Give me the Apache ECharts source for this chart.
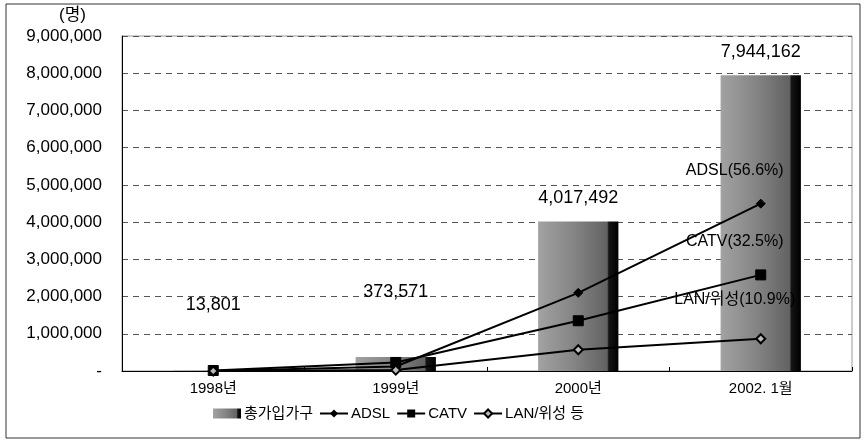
<!DOCTYPE html>
<html>
<head>
<meta charset="utf-8">
<script src="https://cdn.jsdelivr.net/npm/echarts@6/dist/echarts.min.js"></script>
<style>
html,body{margin:0;padding:0;background:#fff;}
#c{width:866px;height:442px;}
</style>
</head>
<body>
<div id="c"></div>
<script>
const categories = ['1998년', '1999년', '2000년', '2002. 1월'];
const totalHouseholds = [13801, 373571, 4017492, 7944162];
const adsl = [0, 120000, 2100000, 4496000];
const catv = [13801, 230000, 1350000, 2582000];
const lanSat = [0, 24000, 570000, 866000];
const endLabels = ['ADSL(56.6%)', 'CATV(32.5%)', 'LAN/위성(10.9%)'];
const seriesNames = ['총가입가구', 'ADSL', 'CATV', 'LAN/위성 등'];
const yTicks = { min: 0, max: 9000000, interval: 1000000 };

const FONT = '"Liberation Sans", "Noto Sans CJK KR", sans-serif';
const chart = echarts.init(document.getElementById('c'));

const fmt = v => v.toLocaleString('en-US');

const barFill = new echarts.graphic.LinearGradient(0, 0, 1, 0, [
  { offset: 0, color: '#a2a2a2' },
  { offset: 0.45, color: '#848484' },
  { offset: 0.86, color: '#626262' },
  { offset: 0.88, color: '#141414' },
  { offset: 1, color: '#000000' }
]);

function barData() {
  return totalHouseholds.map((v, i) => ({
    value: v,
    label: { distance: i < 2 ? 56 : 14 }
  }));
}

const endLabelDistance = [20, 20, 26];

function lineData(arr, labelIdx) {
  return arr.map((v, i) => {
    if (i === arr.length - 1) {
      return {
        value: v,
        label: {
          show: true,
          position: 'top',
          distance: endLabelDistance[labelIdx],
          offset: [-26, 0],
          formatter: endLabels[labelIdx],
          fontFamily: FONT,
          fontSize: 16,
          color: '#000'
        }
      };
    }
    return v;
  });
}

const lineCommon = {
  type: 'line',
  lineStyle: { color: '#000', width: 2 },
  symbolSize: 9,
  z: 5
};

chart.setOption({
  animation: false,
  textStyle: { fontFamily: FONT },
  graphic: [{
    type: 'rect',
    shape: { x: 6, y: 4, width: 854, height: 434 },
    style: { fill: 'none', stroke: '#333', lineWidth: 1 },
    silent: true
  }],
  grid: {
    left: 122, right: 14, top: 36, bottom: 71,
    show: true, borderColor: '#999', borderWidth: 1
  },
  legend: {
    left: 208, top: 401,
    itemWidth: 28, itemHeight: 10, itemGap: 6,
    textStyle: { fontFamily: FONT, fontSize: 15, color: '#000', padding: [0, 0, 0, -2] },
    data: [
      { name: seriesNames[0], icon: 'rect' },
      { name: seriesNames[1] },
      { name: seriesNames[2] },
      { name: seriesNames[3] }
    ]
  },
  xAxis: {
    type: 'category',
    data: categories,
    axisLine: { lineStyle: { color: '#000', width: 1 } },
    axisTick: { show: true, inside: true, length: 4, lineStyle: { color: '#000' } },
    axisLabel: { fontFamily: FONT, fontSize: 15, color: '#000', margin: 10 }
  },
  yAxis: {
    type: 'value',
    min: yTicks.min, max: yTicks.max, interval: yTicks.interval,
    name: '(명)',
    nameLocation: 'end',
    nameGap: 12,
    nameTextStyle: { fontFamily: FONT, fontSize: 17, color: '#000', align: 'right', padding: [0, 36, 0, 0] },
    axisLine: { show: true, lineStyle: { color: '#000', width: 1 } },
    axisTick: { show: false },
    axisLabel: {
      fontFamily: FONT, fontSize: 17, color: '#000', margin: 20,
      formatter: v => v === 0 ? '-' : fmt(v)
    },
    splitLine: { show: true, lineStyle: { color: '#555', type: [6, 5], width: 1 } }
  },
  series: [
    {
      name: seriesNames[0],
      type: 'bar',
      data: barData(),
      barWidth: '44%',
      itemStyle: { color: barFill },
      label: {
        show: true, position: 'top',
        fontFamily: FONT, fontSize: 18, color: '#000',
        formatter: p => fmt(p.value)
      },
      z: 2
    },
    Object.assign({}, lineCommon, {
      name: seriesNames[1],
      data: lineData(adsl, 0),
      symbol: 'diamond',
      itemStyle: { color: '#000', borderColor: '#000' }
    }),
    Object.assign({}, lineCommon, {
      name: seriesNames[2],
      data: lineData(catv, 1),
      symbol: 'rect',
      symbolSize: 10,
      itemStyle: { color: '#000', borderColor: '#000' }
    }),
    Object.assign({}, lineCommon, {
      name: seriesNames[3],
      data: lineData(lanSat, 2),
      symbol: 'diamond',
      itemStyle: { color: '#bbb', borderColor: '#000', borderWidth: 2 }
    })
  ]
});
</script>
</body>
</html>
